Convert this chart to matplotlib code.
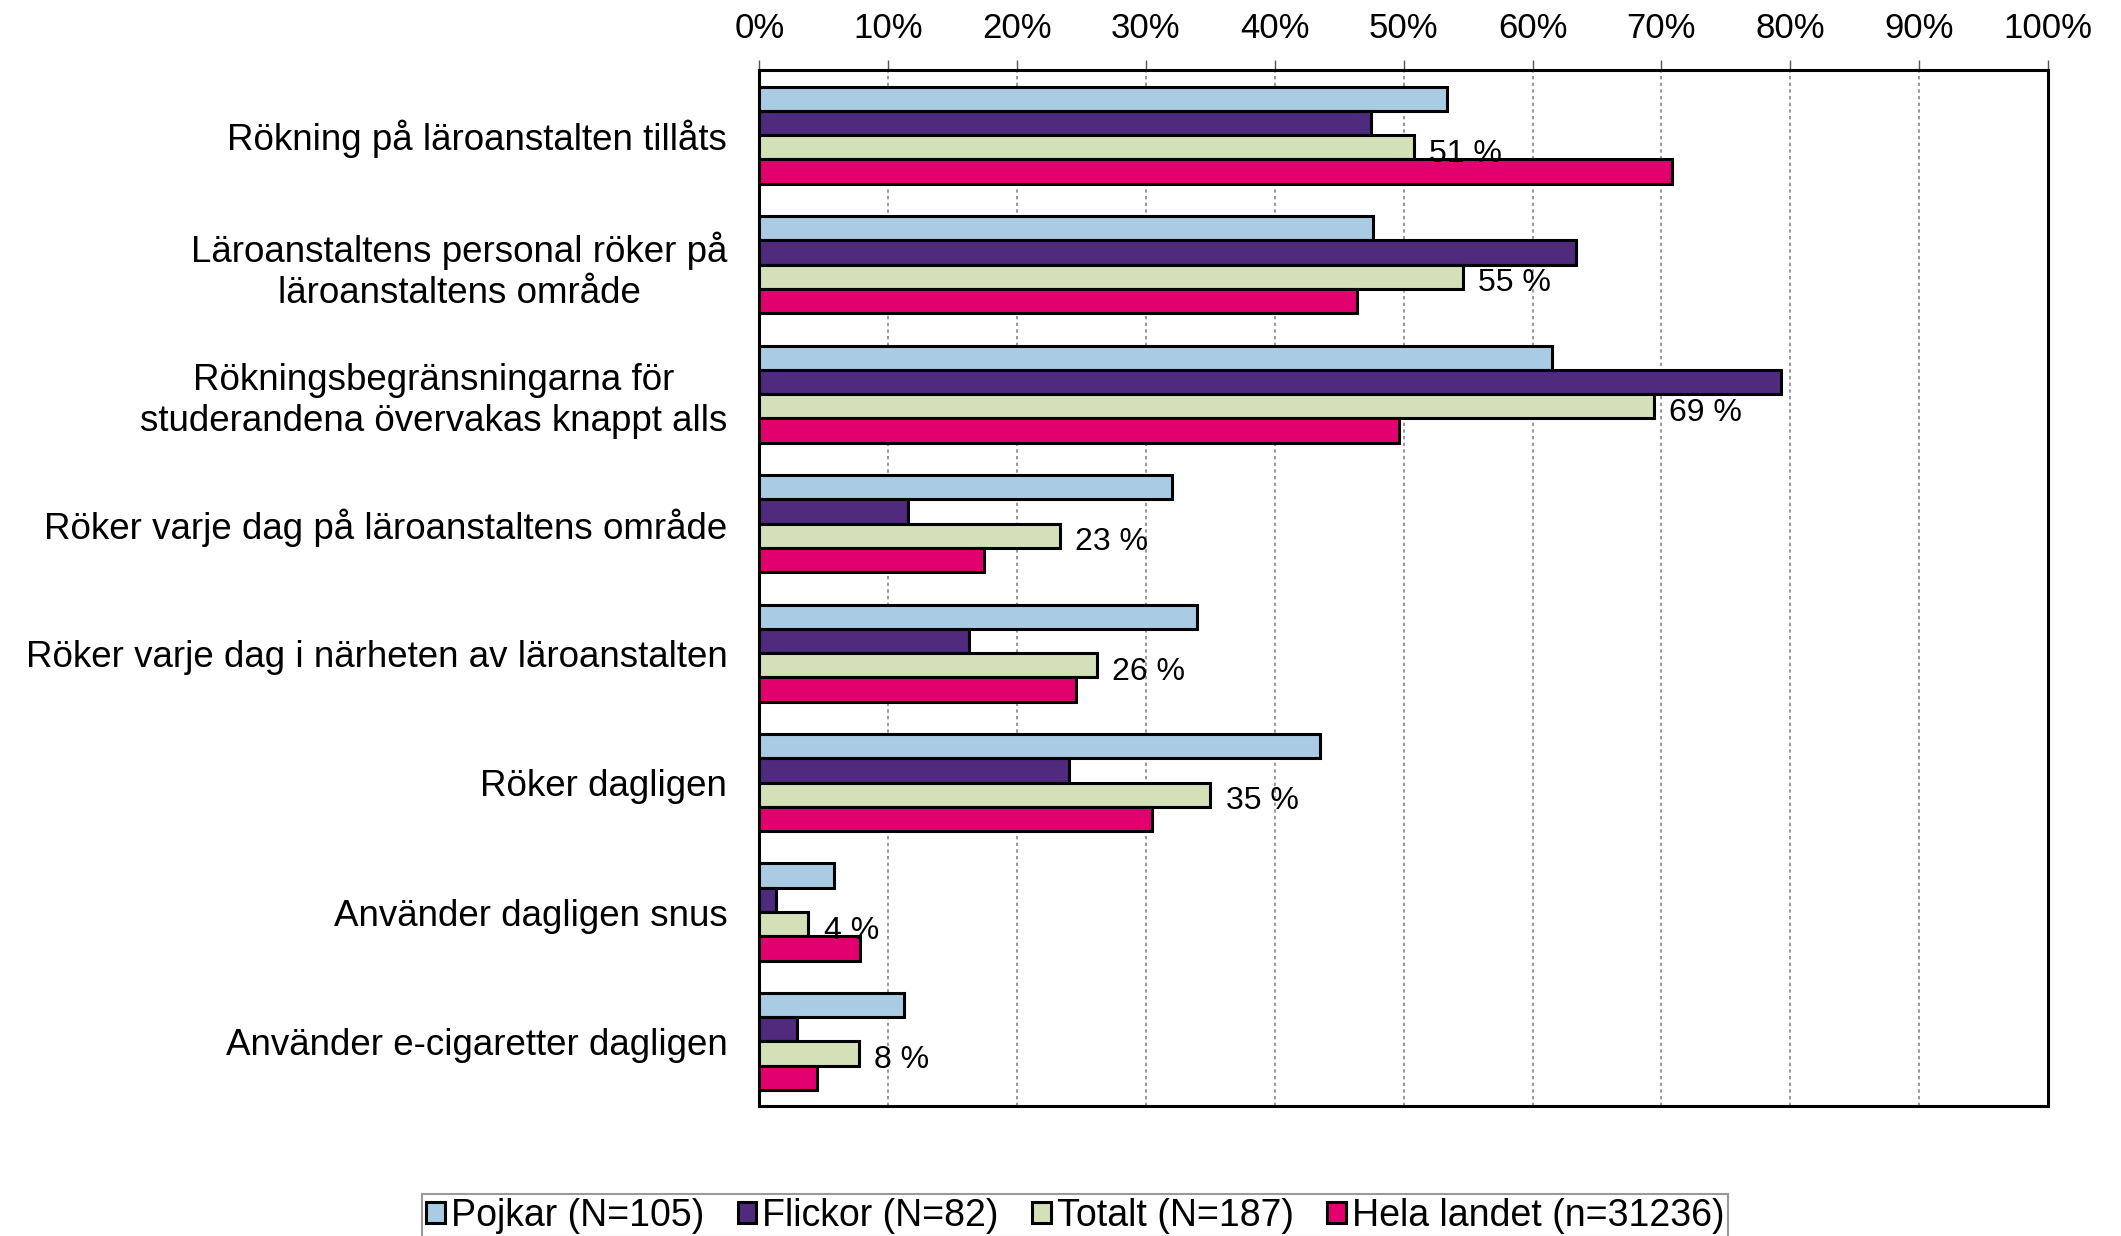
import numpy as np
import matplotlib
matplotlib.use("Agg")
import matplotlib.pyplot as plt

plt.rcParams['font.family'] = ['Liberation Sans', 'DejaVu Sans']

categories = [
    "Rökning på läroanstalten tillåts",
    "Läroanstaltens personal röker på\nläroanstaltens område",
    "Rökningsbegränsningarna för\nstuderandena övervakas knappt alls",
    "Röker varje dag på läroanstaltens område",
    "Röker varje dag i närheten av läroanstalten",
    "Röker dagligen",
    "Använder dagligen snus",
    "Använder e-cigaretter dagligen",
]
series_names = ["Pojkar (N=105)", "Flickor (N=82)", "Totalt (N=187)", "Hela landet (n=31236)"]
pojkar = [53.4, 47.6, 61.5, 32.0, 34.0, 43.5, 5.8, 11.2]
flickor = [47.5, 63.4, 79.3, 11.5, 16.3, 24.0, 1.3, 2.9]
totalt = [50.8, 54.6, 69.4, 23.3, 26.2, 35.0, 3.8, 7.7]
hela = [70.8, 46.4, 49.6, 17.4, 24.6, 30.5, 7.8, 4.5]
totalt_labels = ["51 %", "55 %", "69 %", "23 %", "26 %", "35 %", "4 %", "8 %"]
colors = ["#A9CCE4", "#4F2A7D", "#D3E0B8", "#E2006F"]

fig = plt.figure(figsize=(21.21, 12.36), dpi=100)
ax = fig.add_axes([0.358, 0.105, 0.6076, 0.838])

n = len(categories)
y = np.arange(n)
h = 0.1875
allvals = [pojkar, flickor, totalt, hela]
for i, vals in enumerate(allvals):
    ax.barh(y + (i - 1.5) * h, vals, height=h, color=colors[i],
            edgecolor="black", linewidth=2.2, label=series_names[i], zorder=3)

for k in range(n):
    ax.text(totalt[k] + 1.2, y[k] + 0.5 * h + 0.05, totalt_labels[k],
            va="center", ha="left", fontsize=23, zorder=4)

ax.set_xlim(0, 100)
ax.set_ylim(n - 0.5, -0.5)
ax.set_xticks(np.arange(0, 101, 10))
ax.set_xticklabels([f"{v}%" for v in range(0, 101, 10)], fontsize=25)
ax.xaxis.tick_top()
ax.tick_params(axis="x", direction="out", length=7, width=1, color="#555555", pad=11)
ax.set_yticks(y)
ax.set_yticklabels(categories, fontsize=26.5, multialignment="center")
ax.tick_params(axis="y", length=0, pad=23)
ax.grid(axis="x", linestyle=(0, (2, 2)), color="#888888", linewidth=1.2, zorder=0)
for s in ax.spines.values():
    s.set_linewidth(2.2)
    s.set_color("black")

leg = fig.legend(loc="upper center", bbox_to_anchor=(0.507, 0.034), ncol=4,
                 fontsize=27, frameon=True, fancybox=False, edgecolor="#808080",
                 handlelength=0.5, handleheight=0.5, handletextpad=0.15,
                 columnspacing=0.9, borderpad=0.1, borderaxespad=0)
leg.get_frame().set_linewidth(1.5)

fig.savefig("out.png", dpi=100)
